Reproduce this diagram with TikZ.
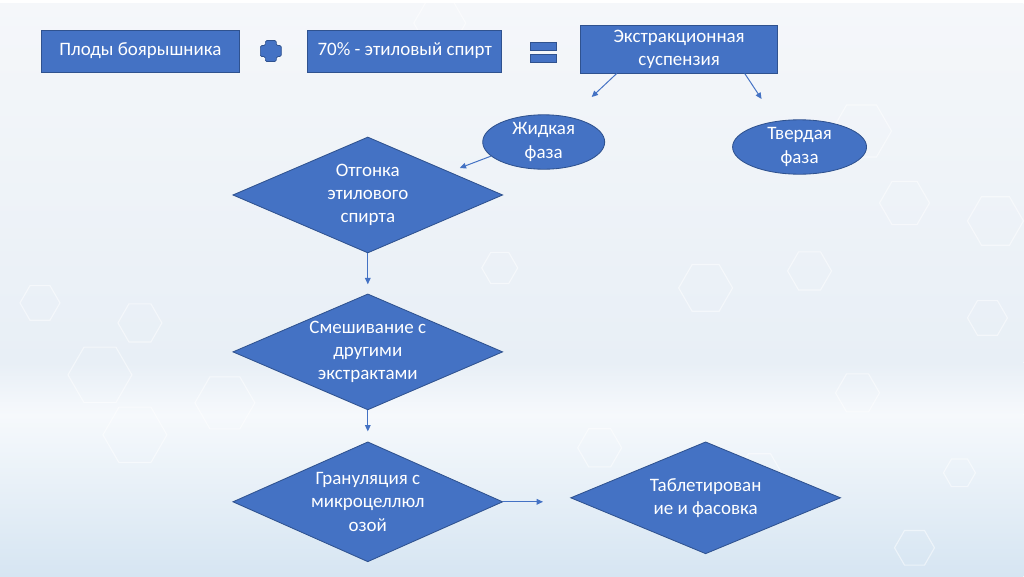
\documentclass[tikz,border=0pt]{standalone}
\usepackage{fontspec}
\setmainfont{Carlito}
\usetikzlibrary{positioning, calc, arrows.meta, shapes.geometric}
\definecolor{officeblue}{RGB}{68,114,196}
\definecolor{officeedge}{RGB}{47,82,143}
\definecolor{bgtop}{RGB}{245,247,250}
\definecolor{bgmid}{RGB}{232,239,246}
\definecolor{bgglow}{RGB}{246,249,252}
\definecolor{bgbot}{RGB}{214,229,242}

\begin{document}
\begin{tikzpicture}[x=0.025cm, y=-0.025cm,
    font=\fontsize{13.5}{16.5}\selectfont,
    box/.style={rectangle, fill=officeblue, draw=officeedge, line width=0.6pt,
                text=white, inner sep=0pt, align=center},
    phase/.style={ellipse, fill=officeblue, draw=officeedge, line width=0.6pt,
                  text=white, inner sep=0pt, align=center},
    stage/.style={diamond, aspect=2.3, fill=officeblue, draw=officeedge, line width=0.6pt,
                  text=white, inner sep=0pt, align=center,
                  minimum width=6.75cm, minimum height=2.9cm},
    link/.style={officeblue, line width=0.7pt, -{Triangle[length=4.5pt, width=4pt]}},
    sign/.style={fill=officeblue, draw=officeedge, line width=0.5pt},
    hexline/.style={white, line width=0.8pt, opacity=0.5}
]

% ============ BACKGROUND ============
\shade[top color=bgtop, bottom color=bgmid] (0,0) rectangle (1024,360);
\shade[top color=bgmid, bottom color=bgglow] (0,360) rectangle (1024,412);
\shade[top color=bgglow, bottom color=bgbot] (0,412) rectangle (1024,574);
\foreach \hx/\hy/\hr in {862/128/30, 905/200/25, 996/218/28, 706/285/27, 810/268/22,
    858/390/22, 988/315/20, 100/372/32, 135/432/32, 225/400/30, 140/320/22,
    600/445/22, 760/470/22, 915/545/20, 960/470/16, 40/300/20, 500/265/18, 440/20/26}
  \draw[hexline] (\hx,\hy) +(0:\hr) -- +(60:\hr) -- +(120:\hr) -- +(180:\hr)
      -- +(240:\hr) -- +(300:\hr) -- cycle;

% ============ TOP ROW ============
\node[box, minimum width=4.975cm, minimum height=1.05cm] (fruit) at (140.5,48) {Плоды боярышника};
\node[box, minimum width=4.85cm, minimum height=1.05cm] (ethanol) at (405,48) {70\% - этиловый спирт};
\node[box, minimum width=4.925cm, minimum height=1.2cm] (susp) at (679.5,46) {Экстракционная\\суспензия};

% plus and equals signs
\filldraw[sign, rounded corners=1pt] (265.5,37.5) -- (276.5,37.5) -- (276.5,42.5) -- (281.5,42.5)
  -- (281.5,53.5) -- (276.5,53.5) -- (276.5,58.5) -- (265.5,58.5) -- (265.5,53.5)
  -- (260.5,53.5) -- (260.5,42.5) -- (265.5,42.5) -- cycle;
\filldraw[sign] (531,39) rectangle (557,47);
\filldraw[sign] (531,51) rectangle (557,59);

% ============ PHASES ============
\node[phase, minimum width=3.05cm, minimum height=1.25cm] (liquid) at (544,139) {Жидкая\\фаза};
\node[phase, minimum width=3.35cm, minimum height=1.25cm] (solid) at (800,144) {Твердая\\фаза};

\coordinate (toLiquid) at (592,94);
\coordinate (toSolid) at (762,96);
\coordinate (toDistil) at (460,165);
\draw[link] ([xshift=-1.56cm]susp.south) -- (toLiquid);
\draw[link] ([xshift=1.64cm]susp.south) -- (toSolid);
\draw[link] (liquid.195) -- (toDistil);

% ============ PROCESS STAGES ============
\node[stage] (distil) at (368,192) {Отгонка\\этилового\\спирта};
\node[stage] (mixing) at (368,349) {Смешивание с\\другими\\экстрактами};
\node[stage, minimum height=3cm] (granul) at (368,499) {Грануляция с\\микроцеллюл\\озой};
\node[stage, minimum height=2.8cm] (tablet) at (706,495) {Таблетирован\\ие и фасовка};

\draw[link, shorten >=0.23cm] (distil.south) -- (mixing.north);
\draw[link, shorten >=0.25cm] (mixing.south) -- (granul.north);
\draw[link, shorten >=0.68cm] (granul.east) -- (granul.east -| tablet.west);

\end{tikzpicture}
\end{document}
